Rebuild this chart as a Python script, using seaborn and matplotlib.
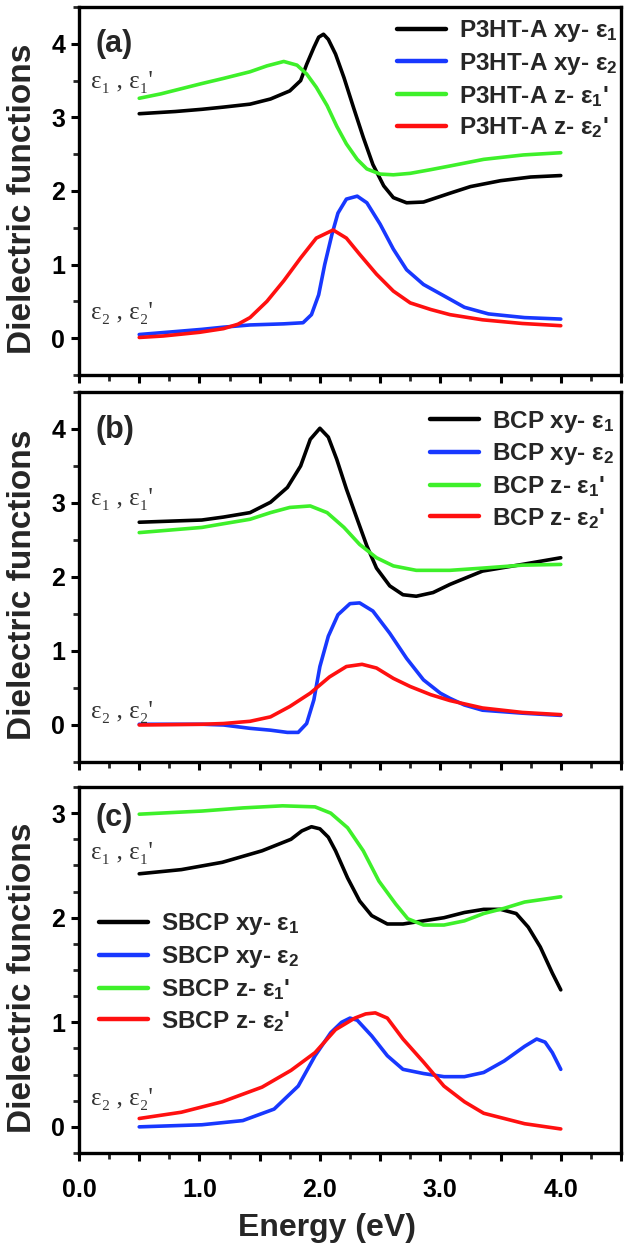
import matplotlib
matplotlib.use("Agg")
import matplotlib.pyplot as plt
import seaborn as sns
from matplotlib.ticker import MultipleLocator, FuncFormatter

# ---------------- data ----------------
# Panel (a) P3HT-A
A_XY_E1_X = [0.50, 0.80, 1.02, 1.20, 1.42, 1.59, 1.75, 1.84, 1.89, 1.95, 1.99, 2.03, 2.07, 2.13, 2.20, 2.28, 2.36, 2.44, 2.53, 2.61, 2.72, 2.86, 3.08, 3.25, 3.50, 3.75, 4.00]
A_XY_E1_Y = [3.05, 3.08, 3.11, 3.14, 3.18, 3.25, 3.36, 3.50, 3.72, 3.95, 4.09, 4.13, 4.06, 3.86, 3.54, 3.13, 2.73, 2.36, 2.07, 1.91, 1.84, 1.85, 1.97, 2.06, 2.14, 2.19, 2.21]
A_XY_E2_X = [0.50, 0.80, 1.02, 1.20, 1.42, 1.70, 1.86, 1.93, 1.99, 2.04, 2.10, 2.15, 2.22, 2.31, 2.39, 2.50, 2.61, 2.72, 2.86, 3.08, 3.20, 3.40, 3.70, 4.00]
A_XY_E2_Y = [0.05, 0.09, 0.12, 0.15, 0.18, 0.195, 0.21, 0.32, 0.59, 1.00, 1.41, 1.70, 1.89, 1.93, 1.84, 1.55, 1.21, 0.93, 0.73, 0.53, 0.42, 0.33, 0.28, 0.26]
A_Z_E1_X = [0.50, 0.68, 1.02, 1.20, 1.42, 1.56, 1.70, 1.81, 1.89, 1.97, 2.06, 2.14, 2.22, 2.31, 2.39, 2.50, 2.61, 2.75, 2.92, 3.08, 3.36, 3.69, 4.00]
A_Z_E1_Y = [3.26, 3.32, 3.46, 3.53, 3.62, 3.70, 3.76, 3.71, 3.59, 3.41, 3.16, 2.88, 2.64, 2.43, 2.30, 2.23, 2.22, 2.24, 2.29, 2.34, 2.43, 2.49, 2.52]
A_Z_E2_X = [0.50, 0.70, 1.00, 1.20, 1.32, 1.42, 1.56, 1.70, 1.84, 1.97, 2.11, 2.22, 2.33, 2.47, 2.61, 2.75, 2.92, 3.08, 3.35, 3.68, 4.00]
A_Z_E2_Y = [0.01, 0.03, 0.08, 0.13, 0.19, 0.28, 0.50, 0.78, 1.09, 1.36, 1.47, 1.36, 1.14, 0.87, 0.64, 0.48, 0.39, 0.32, 0.25, 0.20, 0.17]

# Panel (b) BCP
B_XY_E1_X = [0.50, 1.02, 1.20, 1.42, 1.59, 1.73, 1.84, 1.92, 2.00, 2.07, 2.14, 2.22, 2.31, 2.39, 2.47, 2.58, 2.69, 2.80, 2.94, 3.08, 3.20, 3.35, 3.68, 4.00]
B_XY_E1_Y = [2.74, 2.77, 2.81, 2.87, 3.01, 3.21, 3.50, 3.86, 4.01, 3.89, 3.59, 3.19, 2.78, 2.42, 2.12, 1.88, 1.76, 1.74, 1.79, 1.90, 1.98, 2.08, 2.17, 2.26]
B_XY_E2_X = [0.50, 1.02, 1.20, 1.42, 1.59, 1.73, 1.82, 1.89, 1.95, 2.00, 2.07, 2.15, 2.25, 2.33, 2.44, 2.58, 2.72, 2.86, 3.00, 3.08, 3.20, 3.35, 3.68, 4.00]
B_XY_E2_Y = [0.01, 0.01, 0.00, -0.045, -0.07, -0.10, -0.10, 0.02, 0.34, 0.79, 1.20, 1.49, 1.64, 1.65, 1.54, 1.24, 0.90, 0.61, 0.43, 0.36, 0.27, 0.20, 0.16, 0.13]
B_Z_E1_X = [0.50, 1.02, 1.20, 1.42, 1.59, 1.75, 1.92, 2.06, 2.20, 2.33, 2.47, 2.61, 2.80, 3.08, 3.35, 3.68, 4.00]
B_Z_E1_Y = [2.60, 2.67, 2.72, 2.78, 2.87, 2.94, 2.96, 2.87, 2.67, 2.44, 2.26, 2.15, 2.09, 2.09, 2.12, 2.16, 2.17]
B_Z_E2_X = [0.50, 1.02, 1.20, 1.42, 1.59, 1.75, 1.92, 2.08, 2.22, 2.35, 2.47, 2.61, 2.75, 2.92, 3.08, 3.35, 3.68, 4.00]
B_Z_E2_Y = [0.00, 0.01, 0.02, 0.05, 0.11, 0.25, 0.43, 0.65, 0.79, 0.82, 0.77, 0.63, 0.52, 0.41, 0.33, 0.23, 0.17, 0.14]

# Panel (c) SBCP
C_XY_E1_X = [0.50, 0.85, 1.19, 1.52, 1.76, 1.85, 1.93, 2.00, 2.07, 2.13, 2.23, 2.33, 2.43, 2.56, 2.69, 2.86, 3.03, 3.20, 3.36, 3.50, 3.63, 3.73, 3.83, 3.93, 4.00]
C_XY_E1_Y = [2.42, 2.46, 2.53, 2.64, 2.75, 2.83, 2.87, 2.85, 2.77, 2.64, 2.38, 2.16, 2.02, 1.94, 1.94, 1.97, 2.00, 2.05, 2.08, 2.08, 2.04, 1.91, 1.72, 1.47, 1.31]
C_XY_E2_X = [0.50, 1.02, 1.36, 1.62, 1.82, 1.96, 2.09, 2.18, 2.25, 2.31, 2.43, 2.56, 2.69, 2.86, 3.03, 3.20, 3.36, 3.53, 3.70, 3.80, 3.87, 3.93, 4.00]
C_XY_E2_Y = [0.00, 0.02, 0.06, 0.17, 0.39, 0.68, 0.90, 1.00, 1.04, 1.02, 0.87, 0.68, 0.55, 0.51, 0.48, 0.48, 0.52, 0.63, 0.77, 0.84, 0.81, 0.71, 0.55]
C_Z_E1_X = [0.50, 1.02, 1.36, 1.69, 1.96, 2.09, 2.23, 2.36, 2.49, 2.63, 2.73, 2.86, 3.03, 3.20, 3.36, 3.53, 3.70, 4.00]
C_Z_E1_Y = [2.99, 3.02, 3.05, 3.07, 3.06, 3.00, 2.86, 2.64, 2.35, 2.13, 1.99, 1.93, 1.93, 1.97, 2.04, 2.09, 2.15, 2.20]
C_Z_E2_X = [0.50, 0.85, 1.19, 1.52, 1.76, 1.96, 2.13, 2.29, 2.38, 2.46, 2.56, 2.69, 2.86, 3.03, 3.20, 3.36, 3.70, 4.00]
C_Z_E2_Y = [0.08, 0.14, 0.24, 0.38, 0.54, 0.71, 0.93, 1.04, 1.08, 1.09, 1.04, 0.84, 0.62, 0.39, 0.24, 0.13, 0.03, -0.02]

SERIES_KEYS = ["xy- ε$_1$", "xy- ε$_2$", "z- ε$_1$'", "z- ε$_2$'"]
PANEL_NAMES = ["P3HT-A", "BCP", "SBCP"]
PANEL_TAGS = ["(a)", "(b)", "(c)"]
X_TICK_LABELS = ["0.0", "1.0", "2.0", "3.0", "4.0"]
Y_LABEL = "Dielectric functions"
X_LABEL = "Energy (eV)"

# ---------------- style ----------------
sns.set_style("ticks")
plt.rcParams['font.family'] = ['Liberation Sans', 'DejaVu Sans']
plt.rcParams['font.weight'] = 'bold'
plt.rcParams['mathtext.fontset'] = 'custom'
plt.rcParams['mathtext.rm'] = 'Liberation Sans:bold'
plt.rcParams['mathtext.it'] = 'Liberation Sans:bold'
plt.rcParams['mathtext.bf'] = 'Liberation Sans:bold'
plt.rcParams['lines.solid_capstyle'] = 'round'
plt.rcParams['lines.solid_joinstyle'] = 'round'

COLORS = ['#000000', '#1838ff', '#3ef02a', '#ff1010']

W, H = 634, 1248
fig = plt.figure(figsize=(W / 100, H / 100), dpi=100)

def ax_rect(top_px, bot_px, left_px=79, right_px=621):
    return [left_px / W, 1 - bot_px / H, (right_px - left_px) / W, (bot_px - top_px) / H]

rects = [ax_rect(7, 375), ax_rect(392, 762), ax_rect(787, 1153)]
ylims = [(-0.5, 4.5), (-0.5, 4.5), (-0.25, 3.25)]
yminor = [0.5, 0.5, 0.25]
legend_anchor = [(0.587, 0.97), (0.648, 0.955), (0.037, 0.66)]
tag_pos = [(0.03, 0.90), (0.03, 0.897), (0.03, 0.915)]
eps1_y = [3.48, 3.05, 2.62]
eps2_y = [0.34, 0.18, 0.27]

panels = [
    [(A_XY_E1_X, A_XY_E1_Y), (A_XY_E2_X, A_XY_E2_Y), (A_Z_E1_X, A_Z_E1_Y), (A_Z_E2_X, A_Z_E2_Y)],
    [(B_XY_E1_X, B_XY_E1_Y), (B_XY_E2_X, B_XY_E2_Y), (B_Z_E1_X, B_Z_E1_Y), (B_Z_E2_X, B_Z_E2_Y)],
    [(C_XY_E1_X, C_XY_E1_Y), (C_XY_E2_X, C_XY_E2_Y), (C_Z_E1_X, C_Z_E1_Y), (C_Z_E2_X, C_Z_E2_Y)],
]

def xfmt(v, pos):
    if abs(v - round(v)) < 1e-6 and 0 <= round(v) < len(X_TICK_LABELS):
        return X_TICK_LABELS[int(round(v))]
    return ""

serif = ['Liberation Serif', 'DejaVu Serif']

for i, (rect, series) in enumerate(zip(rects, panels)):
    ax = fig.add_axes(rect)
    for j, (xs, ys) in enumerate(series):
        sns.lineplot(x=xs, y=ys, ax=ax, color=COLORS[j], linewidth=2.6,
                     estimator=None, sort=False, legend=False)
    handles = ax.get_lines()[:4]
    labels = [f"{PANEL_NAMES[i]} {k}" for k in SERIES_KEYS]
    ax.legend(handles, labels, loc='upper left', bbox_to_anchor=legend_anchor[i],
              frameon=False, fontsize=17.5, handlelength=2.0, handletextpad=0.55,
              labelspacing=0.28, borderpad=0, borderaxespad=0)
    for line in ax.get_legend().get_lines():
        line.set_linewidth(3.2)

    ax.set_xlim(0, 4.5)
    ax.set_ylim(*ylims[i])
    ax.xaxis.set_major_locator(MultipleLocator(0.5))
    ax.xaxis.set_minor_locator(MultipleLocator(0.25))
    ax.xaxis.set_major_formatter(FuncFormatter(xfmt))
    ax.yaxis.set_major_locator(MultipleLocator(1))
    ax.yaxis.set_minor_locator(MultipleLocator(yminor[i]))
    ax.tick_params(axis='both', which='major', direction='out', length=6, width=2.2,
                   labelsize=18, colors='black')
    ax.tick_params(axis='both', which='minor', direction='out', length=4.5, width=2.0)
    ax.tick_params(axis='y', pad=4)
    ax.tick_params(axis='x', pad=12)
    for lab in ax.get_xticklabels() + ax.get_yticklabels():
        lab.set_fontweight('bold')
    if i < 2:
        ax.tick_params(axis='x', labelbottom=False)
    else:
        ax.set_xlabel(X_LABEL, fontsize=23, fontweight='bold')
        ax.xaxis.set_label_coords(0.457, -0.165)

    for sp in ax.spines.values():
        sp.set_linewidth(2.4)
        sp.set_color('black')
        sp.set_visible(True)

    ax.set_ylabel(Y_LABEL, fontsize=24, fontweight='bold')
    ax.yaxis.set_label_coords(-0.075, 0.48)

    ax.text(tag_pos[i][0], tag_pos[i][1], PANEL_TAGS[i], transform=ax.transAxes,
            fontsize=22, fontweight='bold', ha='left', va='center')
    ax.text(0.10, eps1_y[i], "ε\u2081 , ε\u2081'", fontsize=18, fontweight='normal',
            family=serif, color='#333333', ha='left', va='center')
    ax.text(0.10, eps2_y[i], "ε\u2082 , ε\u2082'", fontsize=18, fontweight='normal',
            family=serif, color='#333333', ha='left', va='center')

fig.savefig("out.png", dpi=100, facecolor='white')
